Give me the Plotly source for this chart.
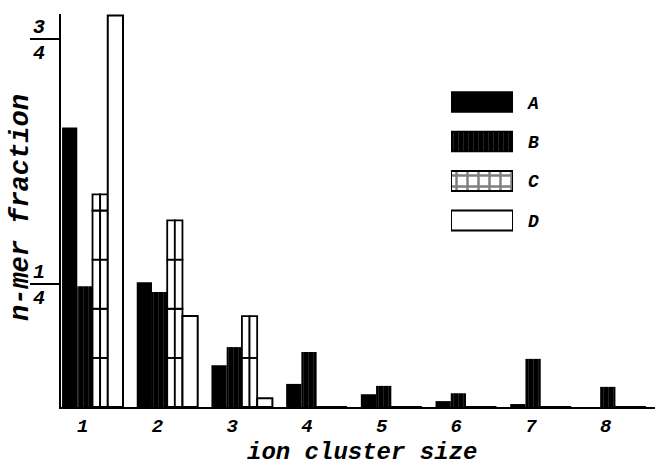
import plotly.graph_objects as go

# ---- data ----
sizes = [1, 2, 3, 4, 5, 6, 7, 8]
tick_labels = ["1", "2", "3", "4", "5", "6", "7", "8"]
series_names = ["A", "B", "C", "D"]
A = [0.569, 0.254, 0.085, 0.047, 0.026, 0.012, 0.006, 0.0]
B = [0.246, 0.234, 0.122, 0.112, 0.043, 0.028, 0.098, 0.041]
C = [0.433, 0.380, 0.185, 0.0, 0.0, 0.0, 0.0, 0.0]
D = [0.797, 0.185, 0.018, 0.0, 0.0, 0.0, 0.0, 0.0]
y_tickvals = [0.25, 0.75]
y_ticktext = ["<b><i>1</i></b><br><b><i>4</i></b>", "<b><i>3</i></b><br><b><i>4</i></b>"]
C_step = 0.1  # hatch spacing of series C

W = 0.204          # bar width in x units
G0 = -2 * W        # left edge of group relative to center
FONT = "Liberation Mono"

fig = go.Figure()

B_pattern = dict(shape="|", fgcolor="#5a5a5a", bgcolor="black", size=5, solidity=0.15)
C_pattern_leg = dict(shape="+", fgcolor="black", bgcolor="white", size=11, solidity=0.4)

# A
fig.add_trace(go.Bar(x=sizes, y=A, width=W, offset=G0, marker=dict(color="black", line=dict(width=0)),
                     showlegend=False))
# B
fig.add_trace(go.Bar(x=sizes, y=B, width=W, offset=G0 + W,
                     marker=dict(color="black", pattern=B_pattern, line=dict(width=0)), showlegend=False))
# C: drawn as outlined segments (two half columns, segments of C_step)
nseg = int(max(C) / C_step) + 1
for half in range(2):
    for k in range(nseg):
        base = [k * C_step if v > k * C_step else 0 for v in C]
        h = [min(C_step, v - k * C_step) if v > k * C_step else 0 for v in C]
        fig.add_trace(go.Bar(x=sizes, y=h, base=base, width=W / 2, offset=G0 + 2 * W + half * W / 2,
                             marker=dict(color="white", line=dict(color="black", width=1.8)),
                             showlegend=False))
# D
fig.add_trace(go.Bar(x=sizes, y=D, width=W, offset=G0 + 3 * W,
                     marker=dict(color="white", line=dict(color="black", width=2)), showlegend=False))

# legend boxes (horizontal bars on a secondary axis)
leg_y = [3, 2, 1, 0]
leg_styles = [
    dict(color="black", line=dict(color="black", width=1.5)),
    dict(color="black", pattern=B_pattern, line=dict(color="black", width=1.5)),
    dict(color="white", pattern=C_pattern_leg, line=dict(color="black", width=2)),
    dict(color="white", line=dict(color="black", width=2)),
]
for yy, st in zip(leg_y, leg_styles):
    fig.add_trace(go.Bar(x=[1], y=[yy], orientation="h", width=0.506, marker=st,
                         xaxis="x2", yaxis="y2", showlegend=False))

annotations = []
for yy, name, ypx in zip(leg_y, series_names, [104, 143, 182, 222]):
    annotations.append(dict(x=(533 - 61) / 594, y=(407 - ypx) / 393, xref="paper", yref="paper",
                            xanchor="center", yanchor="middle",
                            text=f"<b><i>{name}</i></b>", showarrow=False,
                            font=dict(family=FONT, size=18, color="black")))
annotations.append(dict(x=(362 - 61) / 594, y=(407 - 452) / 393, xref="paper", yref="paper",
                        xanchor="center", yanchor="middle",
                        text="<b><i>ion cluster size</i></b>", showarrow=False,
                        font=dict(family=FONT, size=24, color="black")))
annotations.append(dict(x=(21 - 61) / 594, y=(407 - 208) / 393, xref="paper", yref="paper",
                        xanchor="center", yanchor="middle",
                        text="<b><i>n-mer fraction</i></b>", showarrow=False, textangle=-90,
                        font=dict(family=FONT, size=27, color="black")))

fig.update_layout(
    width=658, height=465,
    margin=dict(l=61, r=3, t=14, b=58),
    paper_bgcolor="white", plot_bgcolor="white",
    barmode="overlay",
    showlegend=False,
    xaxis=dict(range=[0.578, 8.53], showline=True, linecolor="black", linewidth=2,
               tickvals=[s - 0.13 for s in sizes], ticktext=[f"<b><i>{t}</i></b>" for t in tick_labels],
               ticks="", showgrid=False, zeroline=False,
               tickfont=dict(family=FONT, size=19, color="black")),
    yaxis=dict(range=[0, 0.8], showline=True, linecolor="black", linewidth=2,
               tickvals=y_tickvals, ticktext=y_ticktext, ticks="outside", ticklen=29, tickwidth=2,
               tickcolor="black", showgrid=False, zeroline=False, ticklabelstandoff=-19,
               tickfont=dict(family=FONT, size=20, color="black")),
    xaxis2=dict(domain=[(451 - 61) / 594, (513 - 61) / 594], range=[0, 1], anchor="y2",
                visible=False, fixedrange=True),
    yaxis2=dict(domain=[(407 - 241) / 393, (407 - 82) / 393], range=[-0.519, 3.506], anchor="x2",
                visible=False, fixedrange=True),
    annotations=annotations,
)

fig.write_html("out.html")
